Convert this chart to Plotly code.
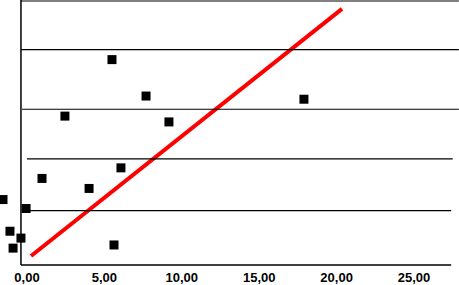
import plotly.graph_objects as go

# data
pts_x = [-1.55, -1.10, -0.90, -0.39, -0.06, 0.97, 2.45, 4.01, 5.49, 5.62, 6.07, 7.69, 9.17, 17.89]
pts_y = [1.24, 0.64, 0.32, 0.51, 1.07, 1.64, 2.82, 1.45, 3.89, 0.38, 1.84, 3.20, 2.71, 3.14]
line_x = [0.26, 20.35]
line_y = [0.17, 4.85]
x_ticks = [0, 5, 10, 15, 20, 25]
x_tick_text = ["0,00", "5,00", "10,00", "15,00", "20,00", "25,00"]
grid_levels = [1.03, 2.01, 2.95, 4.08, 5.0]
grid_starts = [0.0, 0.0, -0.32, -0.39, -0.39]
grid_ends = [27.4, 27.5, 27.9, 27.9, 27.9]
yaxis_x = -0.39
xaxis_end = 27.4

fig = go.Figure()
fig.add_trace(go.Scatter(x=line_x, y=line_y, mode="lines",
                         line=dict(color="#ff0000", width=4), hoverinfo="skip"))
fig.add_trace(go.Scatter(x=pts_x, y=pts_y, mode="markers",
                         marker=dict(symbol="square", size=9, color="black")))

shapes = []
for lvl, s, e in zip(grid_levels, grid_starts, grid_ends):
    shapes.append(dict(type="line", xref="x", yref="y", x0=s, x1=e, y0=lvl, y1=lvl,
                       line=dict(color="black", width=1.2)))
shapes.append(dict(type="line", xref="x", yref="y", x0=yaxis_x, x1=xaxis_end, y0=0, y1=0,
                   line=dict(color="black", width=1.5)))
shapes.append(dict(type="line", xref="x", yref="y", x0=yaxis_x, x1=yaxis_x, y0=0, y1=5.05,
                   line=dict(color="black", width=1.5)))

fig.update_layout(
    width=459, height=285,
    margin=dict(l=0, r=0, t=0, b=14),
    paper_bgcolor="white", plot_bgcolor="white",
    showlegend=False,
    shapes=shapes,
    xaxis=dict(range=[-1.744, 27.907], tickvals=x_ticks,
               ticktext=["<b>" + t + "</b>" for t in x_tick_text],
               showgrid=False, zeroline=False, showline=False, ticks="",
               tickfont=dict(family="Liberation Sans, Arial", size=13, color="black")),
    yaxis=dict(range=[-0.0562, 5.0187], showgrid=False, zeroline=False,
               showticklabels=False, showline=False, ticks=""),
)
fig.write_html("out.html")
